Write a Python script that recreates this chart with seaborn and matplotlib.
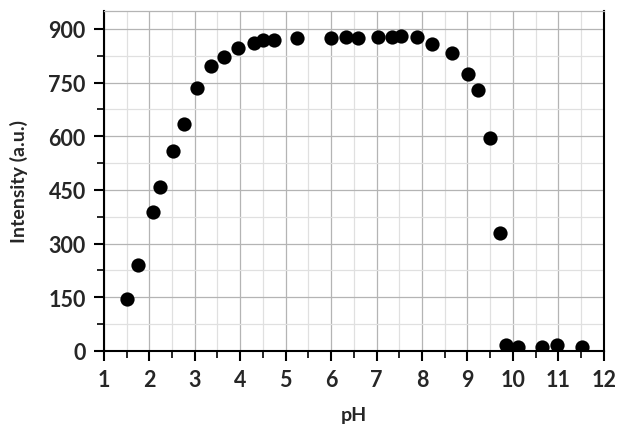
import seaborn as sns
import matplotlib.pyplot as plt
from matplotlib.ticker import MultipleLocator

# pH titration data
ph = [1.51, 1.75, 2.08, 2.23, 2.52, 2.76, 3.05, 3.35, 3.64, 3.95, 4.30, 4.50,
      4.74, 5.25, 5.99, 6.32, 6.59, 7.04, 7.33, 7.53, 7.89, 8.21, 8.65, 9.01,
      9.24, 9.49, 9.72, 9.84, 10.11, 10.64, 10.97, 11.51]
intensity = [146, 240, 388, 459, 559, 634, 735, 797, 822, 847, 861, 869,
             869, 875, 875, 877, 875, 877, 877, 880, 877, 857, 832, 774,
             730, 594, 329, 15, 12, 12, 15, 12]

sns.set_style("white")
plt.rcParams['font.family'] = ['Lato', 'DejaVu Sans']

fig = plt.figure(figsize=(6.18, 4.27), dpi=100)
ax = fig.add_axes([0.168, 0.176, 0.809, 0.796])

sns.scatterplot(x=ph, y=intensity, ax=ax, color="black", s=105,
                edgecolor="black", linewidth=0, zorder=3)

ax.set_xlim(1, 12)
ax.set_ylim(0, 950)
ax.xaxis.set_major_locator(MultipleLocator(1))
ax.xaxis.set_minor_locator(MultipleLocator(0.5))
ax.yaxis.set_major_locator(MultipleLocator(150))
ax.yaxis.set_minor_locator(MultipleLocator(75))

ax.grid(which="major", color="#b4b4b4", linewidth=0.9)
ax.grid(which="minor", color="#e0e0e0", linewidth=0.9)
ax.set_axisbelow(True)

for side in ["left", "bottom", "right"]:
    ax.spines[side].set_color("black")
    ax.spines[side].set_linewidth(1.5)
ax.spines["top"].set_color("#b4b4b4")
ax.spines["top"].set_linewidth(0.9)

ax.tick_params(which="major", direction="out", length=7, width=1.5,
               color="black", labelsize=15.5, pad=6)
ax.tick_params(which="minor", direction="out", length=5, width=1.2,
               color="black")
ax.tick_params(axis="both", which="both", left=True, bottom=True)
for lab in ax.get_xticklabels() + ax.get_yticklabels():
    lab.set_fontweight("bold")

ax.set_xlabel("pH", fontsize=14, fontweight="bold")
ax.set_ylabel("Intensity (a.u.)", fontsize=14, fontweight="bold")
ax.xaxis.set_label_coords(0.5, -0.163)
ax.yaxis.set_label_coords(-0.152, 0.5)

plt.savefig("out.png", dpi=100)
